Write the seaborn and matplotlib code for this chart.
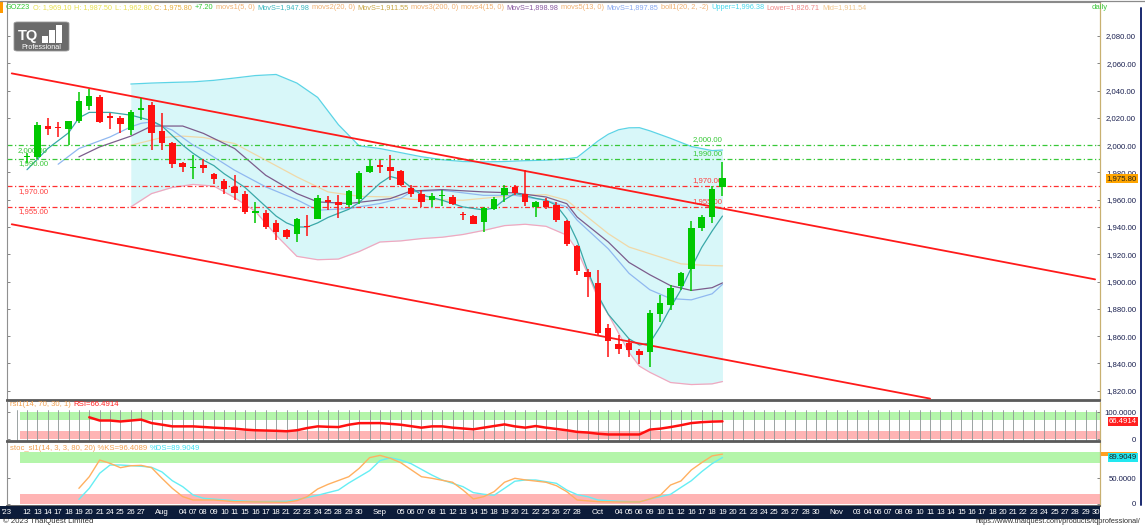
import numpy as np
import pandas as pd
import matplotlib
matplotlib.use("Agg")
import matplotlib.pyplot as plt
import seaborn as sns
from matplotlib.patches import Rectangle, FancyBboxPatch
from matplotlib.lines import Line2D
from matplotlib.transforms import blended_transform_factory

# ---------------- data ----------------
slot_k = list(range(-2, 104))
slot_labels = ["'23", "",
               "12", "13", "14", "17", "18", "19", "20", "21", "24", "25", "26", "27", "", "Aug", "", "04",
               "07", "08", "09", "10", "11", "15", "16", "17", "18", "21", "22", "23", "24", "25", "28", "29", "30",
               "", "Sep", "", "05", "06", "07", "08", "11", "12", "13", "14", "15", "18", "19", "20", "21", "22",
               "25", "26", "27", "28", "", "Oct", "", "04", "05", "06", "09", "10", "11", "12", "16", "17", "18",
               "19", "20", "21", "23", "24", "25", "26", "27", "28", "30", "", "Nov", "", "03", "04", "06", "07",
               "08", "09", "10", "11", "13", "14", "15", "16", "17", "18", "20", "21", "22", "23", "24", "25",
               "27", "28", "29", "30"]

cndl_k = list(range(68))
cndl_open = [1991.0, 1991.5, 2014.2, 2013.0, 2011.7, 2017.6, 2029.0, 2035.0, 2020.5, 2019.6,
             2011.0, 2025.7, 2029.4, 2010.3, 2001.2, 1987.0, 1982.9, 1985.8, 1979.2, 1973.8,
             1969.4, 1964.5, 1950.6, 1950.3, 1943.2, 1938.1, 1935.1, 1940.8, 1946.1, 1959.6,
             1958.4, 1955.9, 1960.8, 1980.4, 1984.6, 1984.0, 1981.1, 1968.9, 1964.0, 1960.1,
             1962.5, 1962.0, 1949.1, 1947.8, 1943.7, 1953.5, 1963.3, 1969.4, 1964.5, 1954.7,
             1959.1, 1955.9, 1944.4, 1926.1, 1907.0, 1898.9, 1865.8, 1854.3, 1854.8, 1849.4,
             1848.2, 1876.4, 1882.5, 1896.4, 1909.4, 1939.5, 1947.3, 1969.1]
cndl_high = [1994.4, 2017.1, 2019.6, 2017.1, 2018.0, 2039.1, 2040.9, 2036.7, 2023.2, 2021.3,
             2025.7, 2034.3, 2031.8, 2023.7, 2002.4, 1987.7, 1992.6, 1989.5, 1979.9, 1975.5,
             1978.0, 1966.2, 1958.4, 1952.3, 1945.4, 1938.8, 1946.6, 1948.6, 1963.3, 1962.5,
             1963.8, 1967.0, 1980.9, 1989.0, 1989.0, 1992.6, 1981.6, 1970.6, 1967.4, 1965.0,
             1966.9, 1963.3, 1951.0, 1948.6, 1954.7, 1962.0, 1970.6, 1970.6, 1981.6, 1959.1,
             1961.5, 1958.4, 1944.9, 1926.5, 1909.4, 1908.7, 1869.0, 1860.5, 1858.0, 1850.7,
             1878.8, 1889.8, 1897.2, 1907.0, 1944.4, 1948.6, 1969.9, 1987.5]
cndl_low = [1987.0, 1990.0, 2007.4, 2005.6, 2000.0, 2015.9, 2025.7, 2015.9, 2011.5, 2008.6,
            2007.3, 2018.4, 1996.3, 1996.3, 1983.6, 1980.4, 1975.0, 1979.7, 1971.8, 1964.5,
            1960.1, 1949.8, 1943.2, 1938.3, 1930.2, 1931.5, 1929.0, 1933.4, 1945.7, 1952.3,
            1946.6, 1954.7, 1957.2, 1979.7, 1979.7, 1974.3, 1969.9, 1962.0, 1954.7, 1954.7,
            1955.2, 1955.9, 1945.4, 1942.0, 1936.3, 1952.2, 1958.4, 1963.3, 1955.2, 1947.3,
            1953.5, 1943.7, 1926.1, 1904.5, 1888.6, 1860.5, 1845.0, 1847.0, 1844.6, 1839.7,
            1837.2, 1870.3, 1878.8, 1893.5, 1893.0, 1937.1, 1942.9, 1962.8]
cndl_close = [1992.0, 2014.5, 2011.5, 2012.3, 2017.6, 2032.5, 2036.0, 2017.1, 2020.0, 2015.2,
              2024.5, 2026.9, 2008.6, 2001.2, 1986.5, 1984.1, 1984.1, 1982.9, 1975.5, 1968.2,
              1965.0, 1951.0, 1951.8, 1940.0, 1936.4, 1932.7, 1946.1, 1940.0, 1961.6, 1958.4,
              1955.9, 1966.2, 1979.7, 1984.6, 1984.1, 1981.0, 1970.6, 1964.0, 1958.4, 1962.5,
              1963.3, 1957.1, 1948.6, 1942.4, 1953.9, 1960.8, 1968.9, 1965.2, 1958.4, 1958.4,
              1954.7, 1945.4, 1927.3, 1907.7, 1903.3, 1862.2, 1856.3, 1850.7, 1849.9, 1846.5,
              1876.9, 1884.4, 1895.2, 1906.6, 1939.5, 1947.3, 1968.1, 1975.8]

bb_k = [10, 12, 14, 16, 18, 20, 22, 24, 26, 28, 30, 32, 34, 36, 38, 40, 42, 44, 46, 48, 50, 52,
        53, 54, 55, 56, 57, 58, 59, 60, 62, 64, 66, 67]
bb_upper = [2044.8, 2045.5, 2046.0, 2046.4, 2047.5, 2049.2, 2051.0, 2051.8, 2045.5, 2035.0, 2015.0,
            1999.5, 1997.5, 1994.5, 1991.5, 1989.3, 1988.0, 1987.7, 1988.0, 1988.6, 1989.0, 1990.0,
            1991.0, 1997.0, 2003.0, 2008.0, 2011.3, 2012.7, 2012.8, 2010.5, 2005.0, 1999.0, 1996.0, 1996.4]
bb_lower = [1954.7, 1964.5, 1969.0, 1971.2, 1970.0, 1961.5, 1951.5, 1934.0, 1918.5, 1916.0, 1916.5,
            1922.0, 1929.0, 1929.8, 1931.5, 1932.5, 1934.5, 1937.5, 1941.0, 1942.0, 1940.5, 1934.0,
            1923.0, 1906.0, 1888.0, 1876.0, 1862.0, 1848.0, 1838.0, 1833.5, 1826.0, 1824.5, 1825.0, 1826.7]

ma5_k = [0, 2, 4, 5, 6, 8, 10, 12, 13, 14, 15, 16, 17, 18, 19, 20, 21, 22, 23, 24, 25, 26, 27, 28, 29,
         30, 31, 32, 33, 34, 35, 36, 37, 38, 40, 42, 44, 45, 46, 47, 48, 49, 50, 51, 52, 53, 54, 55,
         56, 57, 58, 59, 60, 61, 62, 63, 64, 65, 66, 67]
ma5_val = [1982, 1997.5, 2009, 2020, 2024, 2024, 2022, 2018, 2014, 2007, 2000, 1994, 1989, 1985, 1979,
           1974, 1969, 1962, 1955, 1948, 1943, 1940, 1940, 1943, 1947, 1950, 1953, 1958, 1965, 1972,
           1977, 1975, 1969, 1963.5, 1959.6, 1954.7, 1952.5, 1954, 1960, 1964.5, 1963, 1961, 1959.6,
           1955.9, 1946, 1930, 1908, 1890, 1876, 1867, 1858, 1853.5, 1855, 1867, 1881, 1894, 1910,
           1925, 1937, 1948]

ma13_k = [3, 5, 8, 10, 11, 12, 14, 16, 17, 20, 23, 26, 28, 31, 34, 36, 37, 40, 44, 47, 50, 52, 53,
          56, 58, 60, 62, 64, 66, 67]
ma13_val = [1986, 1997.5, 2006, 2013.4, 2016, 2017, 2011, 2000, 1996, 1981.6, 1969.4, 1960, 1952.3,
            1953.5, 1957.2, 1961, 1965.7, 1966.9, 1963.2, 1963.2, 1959.6, 1954.7, 1945, 1924, 1906,
            1894, 1887.5, 1886.6, 1891, 1897.9]

ma15_k = [5, 7, 10, 12, 15, 17, 20, 23, 26, 28, 31, 35, 37, 40, 44, 47, 50, 52, 53, 56, 58, 60, 62,
          64, 66, 67]
ma15_val = [1991.4, 1998.7, 2006.6, 2014, 2014, 2008.6, 1997.5, 1977.9, 1964.5, 1958.4, 1957.2,
            1960.8, 1966.4, 1967.4, 1965.7, 1965, 1962, 1957.1, 1947.3, 1929, 1914, 1905, 1897,
            1893.5, 1895.5, 1899]

ma20_k = [10, 13, 15, 17, 20, 23, 26, 29, 32, 35, 37, 42, 47, 50, 52, 54, 56, 58, 61, 63, 65, 67]
ma20_val = [1999.9, 2005.6, 2006.6, 2005.6, 2001.2, 1989, 1976.7, 1965.7, 1962.5, 1962, 1960.3,
            1959.6, 1963.2, 1963.7, 1959.6, 1947.3, 1935.1, 1925.3, 1918, 1913, 1912, 1911.5]

chan_upper_k = [-1.47, 102.9]
chan_upper_p = [2052.6, 1901.6]
chan_lower_k = [-1.47, 87.0]
chan_lower_p = [1942.0, 1814.2]

level_green = [2000.0, 1990.0]
level_red = [1970.0, 1955.0]

rsi_k = [6, 7, 8, 9, 11, 12, 13, 14, 16, 18, 20, 21, 22, 24, 25, 26, 27, 28, 29, 30, 31, 32, 34, 35,
         36, 38, 39, 40, 41, 43, 44, 46, 47, 48, 49, 50, 52, 53, 54, 55, 56, 58, 59, 60, 61, 62, 63,
         64, 65, 66, 67]
rsi_val = [81.7, 69.6, 69.6, 66, 73, 60, 54, 47.6, 47.6, 42.8, 39, 35.5, 33, 31, 29.3, 33, 41.4, 47.6,
           46, 45, 53.8, 59.7, 60, 57, 53.8, 42.8, 47.6, 47.6, 42.8, 36.6, 42.8, 55, 47.6, 42.8, 48.8,
           42.8, 33, 26.9, 24.5, 20, 17.2, 17.2, 17.2, 35.5, 39, 45, 52, 60, 63.5, 65.5, 66.49]

stk_k = [5, 6, 7, 8, 9, 10, 11, 12, 13, 14, 15, 16, 18, 20, 22, 25, 26, 27, 28, 29, 31, 32, 33, 34,
         35, 36, 38, 39, 41, 42, 43, 44, 45, 46, 47, 48, 50, 51, 52, 53, 55, 57, 59, 60, 61, 62, 63,
         64, 65, 66, 67]
stk_val = [30.3, 52.8, 85, 78.7, 70.2, 74, 74.7, 70.2, 49.7, 30.3, 14.2, 7.7, 7.7, 4.5, 4, 3.3, 6.4,
           14.2, 29, 38, 52.8, 69, 89.6, 94, 88.4, 80, 52.8, 49.7, 42, 27, 9.7, 14.2, 23.8, 42, 49.7,
           46.6, 42, 35.4, 23.8, 7.7, 4.5, 3.9, 3.9, 9.7, 16.8, 36.7, 44.5, 65.8, 80, 93, 96.41]
std_k = [5, 6, 7, 8, 9, 11, 12, 13, 14, 15, 16, 17, 20, 22, 25, 26, 28, 29, 30, 31, 33, 34, 35, 36,
         37, 39, 40, 42, 43, 44, 45, 46, 47, 48, 49, 51, 52, 53, 54, 55, 57, 59, 60, 62, 63, 64, 65,
         66, 67]
std_val = [9, 30.3, 59.4, 75.4, 75.4, 73, 71, 62, 45, 33.5, 17.4, 11, 6.4, 4.5, 5.2, 8.4, 16.8, 22,
           27, 40.6, 64.4, 83.8, 89.6, 85, 78, 56, 46.4, 33.5, 22, 18.8, 16.8, 30.3, 44, 46.4, 46.4,
           40, 27, 18, 14.2, 7.7, 5.2, 3.9, 9.7, 18.7, 32, 45, 62.5, 78, 89.9]

header_segments = [("GOZ23", "#33c833"), ("O: 1,969.10", "#e8e050"), ("H: 1,987.50", "#e8e050"),
                   ("L: 1,962.80", "#e8e050"), ("C: 1,975.80", "#e8b040"), ("+7.20", "#33c833"),
                   ("movs1(5, 0)", "#f0b070"), ("MovS=1,947.98", "#3cb8c0"),
                   ("movs2(20, 0)", "#f0b070"), ("MovS=1,911.55", "#c8a848"),
                   ("movs3(200, 0)", "#f0b070"), ("movs4(15, 0)", "#f0b070"),
                   ("MovS=1,898.98", "#8858a0"), ("movs5(13, 0)", "#f0b070"),
                   ("MovS=1,897.85", "#88a8f0"), ("boll1(20, 2, -2)", "#f0b070"),
                   ("Upper=1,996.38", "#48d8ec"), ("Lower=1,826.71", "#f08888"),
                   ("Mid=1,911.54", "#f0c890")]
rsi_title = [("rsi1(14, 70, 30, 1)", "#f0a050"), ("RSI=66.4914", "#ff2020")]
stoch_title = [("stoc_sl1(14, 3, 3, 80, 20) %KS=96.4089", "#f0a050"), ("%DS=89.9049", "#44e0f0")]

# ---------------- layout helpers ----------------
W, H = 1145, 525
X0PX, DX = 27.0, 10.38

sns.set_style("white")
plt.rcParams['font.family'] = ['Liberation Sans', 'DejaVu Sans']

fig = plt.figure(figsize=(W / 100, H / 100), dpi=100)
fig.patch.set_facecolor("white")
renderer = fig.canvas.get_renderer()


def rect(x0, y0, x1, y1):
    return [x0 / W, 1 - y1 / H, (x1 - x0) / W, (y1 - y0) / H]


def kx(px):
    return (px - X0PX) / DX


def chain(segs, x_px, y_px, size, gap):
    x = x_px
    for txt, col in segs:
        t = fig.text(x / W, 1 - y_px / H, txt, color=col, fontsize=size, ha="left", va="center",
                     zorder=20)
        bb = t.get_window_extent(renderer=renderer)
        x += bb.width + gap


XL = (kx(7), kx(1100))
GREEN, RED = "#00c800", "#ff1010"
AXCOL = "#1a2050"
FS = 5.6
LBL_PAD = 26.0
RX = (1137 - 7) / 1093


def style_panel(ax):
    ax.set_xlim(XL)
    ax.set_xticks([])
    for s in ("top", "bottom"):
        ax.spines[s].set_color("#5a5a5a")
        ax.spines[s].set_linewidth(1.3)
    ax.spines["left"].set_color("#909090")
    ax.spines["left"].set_linestyle((0, (1, 1)))
    ax.spines["left"].set_linewidth(0.8)
    ax.spines["right"].set_color("#c8b070")
    ax.spines["right"].set_linestyle((0, (1, 1)))
    ax.spines["right"].set_linewidth(0.9)
    ax.yaxis.tick_right()
    ax.tick_params(axis="y", which="both", direction="in", left=True, right=True,
                   labelleft=False, labelright=True, length=2, width=0.6,
                   color="#707070", labelsize=FS, labelcolor=AXCOL, pad=LBL_PAD)
    ax.set_ylabel("")
    ax.set_xlabel("")


def right_align(ax):
    for lab in ax.get_yticklabels():
        lab.set_horizontalalignment("right")


# ---------------- main price panel ----------------
ax = fig.add_axes(rect(7, 2, 1100, 400))
ax.set_facecolor("white")
YLIM_MAIN = (2080 - 364 / 1.3642, 2080 + 34 / 1.3642)

bb_df = pd.DataFrame({"k": bb_k, "upper": bb_upper, "lower": bb_lower})
ax.fill_between(bb_df["k"], bb_df["lower"], bb_df["upper"], color="#d8f7f9", lw=0, zorder=1)
sns.lineplot(data=bb_df, x="k", y="upper", ax=ax, color="#5cd4e6", lw=0.9, zorder=2,
             sort=False, estimator=None)
sns.lineplot(data=bb_df, x="k", y="lower", ax=ax, color="#f0a8c0", lw=0.9, zorder=2,
             sort=False, estimator=None)

sns.lineplot(x=ma20_k, y=ma20_val, ax=ax, color="#f0d8a8", lw=0.9, zorder=2, sort=False, estimator=None)
sns.lineplot(x=ma13_k, y=ma13_val, ax=ax, color="#90b8f0", lw=0.9, zorder=2, sort=False, estimator=None)
sns.lineplot(x=ma15_k, y=ma15_val, ax=ax, color="#7c5c8c", lw=0.9, zorder=2, sort=False, estimator=None)
sns.lineplot(x=ma5_k, y=ma5_val, ax=ax, color="#3aa8a8", lw=0.9, zorder=3, sort=False, estimator=None)

dash = (0, (4, 2, 1, 2))
for lv in level_green:
    ax.axhline(lv, color="#38c838", lw=0.9, ls=dash, zorder=2)
    lab = f"{lv:,.2f}"
    ax.text(kx(18), lv - 1.2, lab, color="#38c838", fontsize=FS, ha="left", va="top", zorder=3)
    ax.text(67.0, lv + 1.2, lab, color="#38c838", fontsize=FS, ha="right", va="bottom", zorder=3)
for lv in level_red:
    ax.axhline(lv, color="#ff3030", lw=0.9, ls=dash, zorder=2)
    lab = f"{lv:,.2f}"
    ax.text(kx(18), lv - 1.2, lab, color="#ff4040", fontsize=FS, ha="left", va="top", zorder=3)
    ax.text(67.0, lv + 1.2, lab, color="#ff4040", fontsize=FS, ha="right", va="bottom", zorder=3)

sns.lineplot(x=chan_upper_k, y=chan_upper_p, ax=ax, color="#ff1a1a", lw=1.3, zorder=6, sort=False, estimator=None)
sns.lineplot(x=chan_lower_k, y=chan_lower_p, ax=ax, color="#ff1a1a", lw=1.3, zorder=6, sort=False, estimator=None)

cdf = pd.DataFrame({"k": cndl_k, "o": cndl_open, "h": cndl_high, "l": cndl_low, "c": cndl_close})
colors = np.where(cdf["c"] >= cdf["o"], GREEN, RED)
ax.vlines(cdf["k"], cdf["l"], cdf["h"], colors=colors, lw=1.1, zorder=7)
body_bot = np.minimum(cdf["o"], cdf["c"])
body_h = np.maximum((cdf["c"] - cdf["o"]).abs(), 1.0)
ax.bar(cdf["k"], body_h, bottom=body_bot, width=0.62, color=colors, lw=0, zorder=8)

style_panel(ax)
ax.set_yticks(np.arange(1820, 2081, 20))
ax.set_yticklabels([f"{v:,.2f}" for v in np.arange(1820, 2081, 20)])
right_align(ax)
ax.set_ylim(*YLIM_MAIN)
ax.spines["top"].set_color("#8a8a8a")
ax.spines["top"].set_linewidth(0.8)

tr = blended_transform_factory(ax.transAxes, ax.transData)
ax.text(RX, cndl_close[-1], f"{cndl_close[-1]:,.2f}", transform=tr, ha="right",
        va="center", fontsize=FS, color="#202020", zorder=10, clip_on=False,
        bbox=dict(boxstyle="square,pad=0.12", fc="#ffa500", ec="none"))

# ---------------- RSI panel ----------------
ar = fig.add_axes(rect(7, 401, 1100, 441))
ar.set_facecolor("white")
x_band = (20 - 7) / 1093
ar.axhspan(70, 100, xmin=x_band, xmax=1, color="#b4f5aa", lw=0, zorder=0)
ar.axhspan(0, 30, xmin=x_band, xmax=1, color="#ffb4b4", lw=0, zorder=0)
for k in slot_k[1:]:
    ar.axvline(k, ymin=0.03, ymax=0.77, color="#8c9494", lw=0.6, zorder=1)
sns.lineplot(x=rsi_k, y=rsi_val, ax=ar, color="#ff1010", lw=1.8, zorder=3, sort=False, estimator=None)
style_panel(ar)
ar.set_yticks([0, 100])
ar.set_yticklabels(["0", "100.0000"])
right_align(ar)
ar.set_ylim(-7.3, 142.9)
tr = blended_transform_factory(ar.transAxes, ar.transData)
ar.text(RX, rsi_val[-1], "66.4914", transform=tr, ha="right", va="center",
        fontsize=FS, color="white", zorder=10, clip_on=False,
        bbox=dict(boxstyle="square,pad=0.12", fc="#ff2020", ec="none"))

# ---------------- Stochastic panel ----------------
asx = fig.add_axes(rect(7, 442, 1100, 506))
asx.set_facecolor("white")
asx.axhspan(80, 100, xmin=x_band, xmax=1, color="#b4f5aa", lw=0, zorder=0)
asx.axhspan(0, 20, xmin=x_band, xmax=1, color="#ffb4b4", lw=0, zorder=0)
sns.lineplot(x=std_k, y=std_val, ax=asx, color="#66eef4", lw=1.0, zorder=3, sort=False, estimator=None)
sns.lineplot(x=stk_k, y=stk_val, ax=asx, color="#ffb060", lw=1.0, zorder=3, sort=False, estimator=None)
style_panel(asx)
asx.set_yticks([0, 50])
asx.set_yticklabels(["0", "50.0000"])
right_align(asx)
asx.set_ylim(-3.9, 119.9)
tr = blended_transform_factory(asx.transAxes, asx.transData)
asx.add_patch(Rectangle((1.0005, stk_val[-1] - 4.5), 36 / 1093, 9.0, transform=tr,
                        fc="#ffa020", ec="none", clip_on=False, zorder=9))
asx.text(RX, std_val[-1], "89.9049", transform=tr, ha="right", va="center",
         fontsize=FS, color="#202020", zorder=11, clip_on=False,
         bbox=dict(boxstyle="square,pad=0.12", fc="#22e8f0", ec="none"))

# ---------------- date bar ----------------
ad = fig.add_axes(rect(0, 506, 1100, 519))
ad.set_facecolor("#0c1c3a")
ad.set_xlim(kx(0), kx(1100))
ad.set_ylim(0, 1)
ad.set_xticks([])
ad.set_yticks([])
for s in ad.spines.values():
    s.set_visible(False)
for k, lab in zip(slot_k, slot_labels):
    if lab:
        ad.text(k, 0.5, lab, color="white", fontsize=FS, ha="center", va="center")

# ---------------- header, titles, logo, borders ----------------
chain(header_segments, 6, 7.5, 5.3, 2.6)
chain(rsi_title, 10, 405, FS, 3)
chain(stoch_title, 10, 448, FS, 3)
fig.text(1092 / W, 1 - 7.5 / H, "daily", color="#40c840", fontsize=FS, ha="left", va="center")
fig.patches.append(Rectangle((0, 1 - 13 / H), 3 / W, 12 / H, transform=fig.transFigure,
                             color="#ff9a00", lw=0))

fig.patches.append(FancyBboxPatch((14 / W, 1 - 51 / H), 55 / W, 29 / H,
                                  boxstyle="round,pad=0,rounding_size=0.003",
                                  transform=fig.transFigure, fc="#6b6b6b", ec="#9a9a9a", lw=0.6))
fig.text(18 / W, 1 - 36 / H, "TQ", color="white", fontsize=10.5, fontweight="bold",
         ha="left", va="center")
for (bx, by0, by1) in [(42, 36, 43), (49, 30, 43), (56, 25, 43)]:
    fig.patches.append(Rectangle((bx / W, 1 - by1 / H), 5.5 / W, (by1 - by0) / H,
                                 transform=fig.transFigure, color="white", lw=0))
fig.text(41.5 / W, 1 - 47.5 / H, "Professional", color="white", fontsize=5.2, ha="center", va="center")

fig.text(3 / W, 1 - 521.5 / H, "© 2023 ThaiQuest Limited", color="#303030", fontsize=FS,
         ha="left", va="center")
fig.text(1140 / W, 1 - 521.5 / H, "https://www.thaiquest.com/products/tqprofessional/",
         color="#303030", fontsize=FS - 0.3, ha="right", va="center")

fig.lines.append(Line2D([0, 1], [1 - 0.6 / H, 1 - 0.6 / H], transform=fig.transFigure,
                        color="#8a8a8a", lw=0.9))
fig.lines.append(Line2D([1140.5 / W, 1140.5 / W], [1 - 505 / H, 1 - 8 / H], transform=fig.transFigure,
                        color="#1a2a70", lw=1.4))

fig.savefig("out.png", dpi=100, facecolor="white")
